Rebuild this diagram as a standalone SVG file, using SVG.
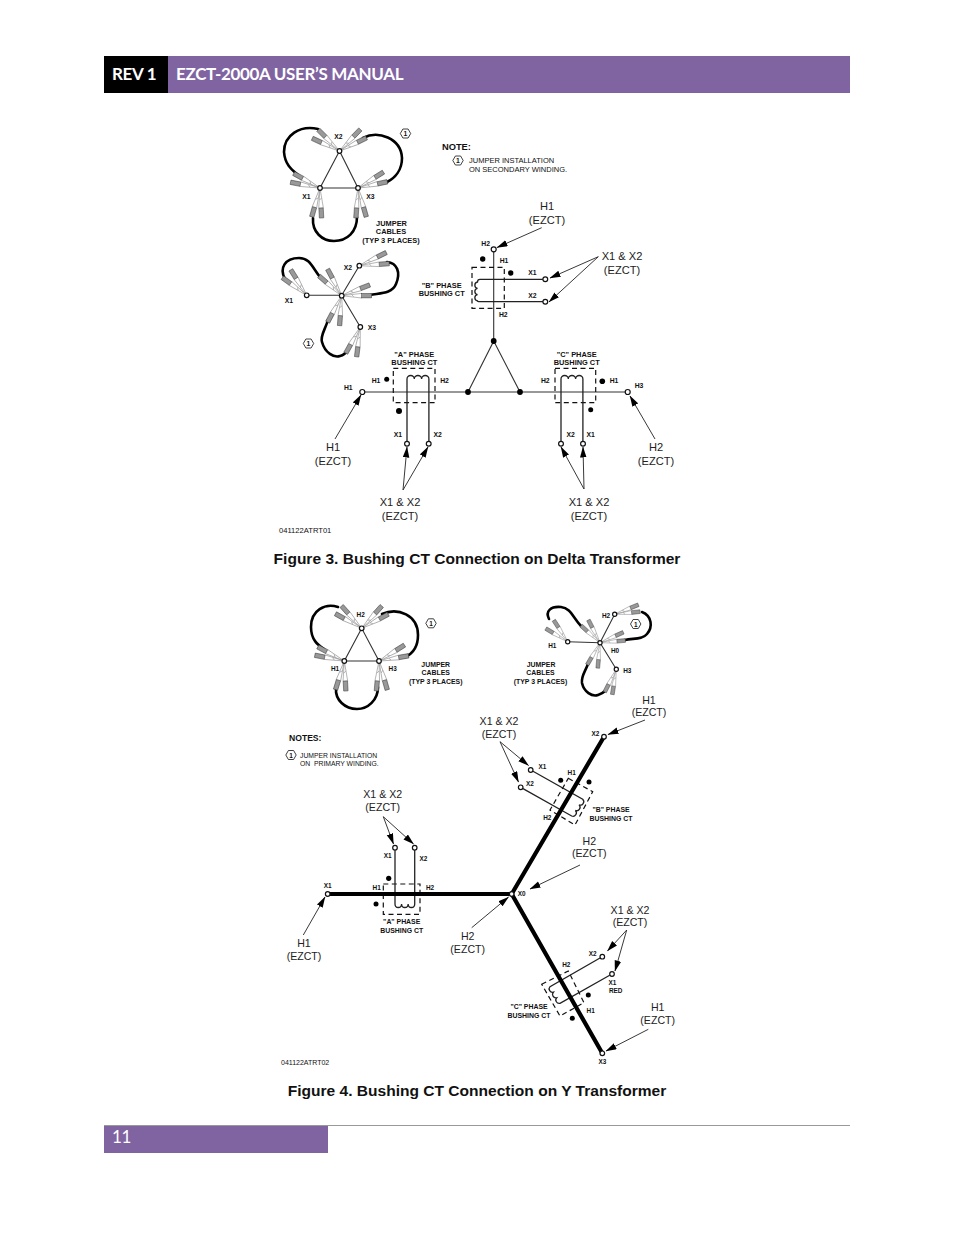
<svg xmlns="http://www.w3.org/2000/svg" xmlns:xlink="http://www.w3.org/1999/xlink" width="954" height="1235" viewBox="0 0 954 1235">
<style>
text{font-family:"Liberation Sans",Arial,sans-serif;fill:#111}
.h{font-family:Lato,"Liberation Sans",sans-serif;font-weight:700;font-size:17px;fill:#fff;letter-spacing:-.33px}
.f{font-weight:700;font-size:15.55px;text-anchor:middle}
.l{font-size:11.1px;text-anchor:middle;fill:#222}
.s{font-weight:700;font-size:6.8px;text-anchor:middle}
.j{font-weight:700;font-size:7.4px;text-anchor:middle}
.n{font-size:7.5px}
.y .s{font-size:6.4px}
.y .j{font-size:6.9px}
.y .l{font-size:10.6px}
.y .n{font-size:6.8px}
.w{fill:none;stroke:#222;stroke-width:1.3}
.t{fill:none;stroke:#333;stroke-width:1.1}
.m{fill:none;stroke:#000;stroke-width:4.2}
.c{fill:none;stroke:#000;stroke-width:2.6;stroke-linecap:round}
.d{fill:none;stroke:#111;stroke-width:1.2;stroke-dasharray:5 3.5}
.o{fill:#fff;stroke:#111;stroke-width:1.2}
.b{fill:#000}
.a{fill:none;stroke:#222;stroke-width:.9;marker-end:url(#ah)}
</style>
<defs>
<marker id="ah" markerUnits="userSpaceOnUse" markerWidth="11" markerHeight="7" refX="10.5" refY="3.3" orient="auto"><path d="M0 0L11 3.300L0 6.600z" fill="#000"/></marker>
<g id="clip"><path d="M0 0L20 -2.300M0 0L20 2.300M10 -1L12 1" fill="none" stroke="#888" stroke-width=".6"/><rect x="20" y="-2.200" width="10" height="4.400" fill="#999" stroke="#333" stroke-width=".5"/></g>
<polygon id="hex" points="5.2,0 2.6,4.5 -2.6,4.5 -5.2,0 -2.6,-4.5 2.6,-4.5" fill="#fff" stroke="#111" stroke-width=".8"/>
</defs>
<rect width="954" height="1235" fill="#fff"/>
<g id="header">
<rect x="168" y="56" width="682" height="37" fill="#8064a2"/>
<rect x="104" y="56" width="64" height="37" fill="#000"/>
<text class="h" x="112" y="80">REV 1</text>
<text class="h" x="176" y="80">EZCT-2000A USER’S MANUAL</text>
</g>
<g id="footer">
<line x1="104" y1="1125.500" x2="850" y2="1125.500" stroke="#999" stroke-width="1"/>
<rect x="104" y="1126" width="224" height="27" fill="#8064a2"/>
<text class="h" x="112" y="1143" style="font-weight:400">11</text>
</g>

<g id="jumper-delta-fig3">
<path class="t" d="M339.500 151L320 188L358 188Z"/>
<g id="j3a">
<path class="c" d="M318 129C300 125 284 135 284 152C285 165 292 170 298 175"/>
<path class="c" d="M363 138C378 130 401 138 402 158C402 170 395 178 387 182"/>
<path class="c" d="M313 218C312 232 322 241 334 241C347 241 357 232 357 217"/>
</g>
<use href="#clip" transform="translate(339.500 151) rotate(225)"/><use href="#clip" transform="translate(339.500 151) rotate(205)"/><use href="#clip" transform="translate(339.500 151) rotate(-46)"/><use href="#clip" transform="translate(339.500 151) rotate(-26)"/>
<use href="#clip" transform="translate(320 188) rotate(209)"/><use href="#clip" transform="translate(320 188) rotate(191)"/><use href="#clip" transform="translate(320 188) rotate(106)"/><use href="#clip" transform="translate(320 188) rotate(87)"/>
<use href="#clip" transform="translate(358 188) rotate(-32)"/><use href="#clip" transform="translate(358 188) rotate(-12)"/><use href="#clip" transform="translate(358 188) rotate(94)"/><use href="#clip" transform="translate(358 188) rotate(74)"/>
<circle class="o" cx="339.500" cy="151" r="2.300"/><circle class="o" cx="320" cy="188" r="2.300"/><circle class="o" cx="358" cy="188" r="2.300"/>
<text class="s" x="338.500" y="139">X2</text><text class="s" x="306.500" y="199">X1</text><text class="s" x="370.500" y="199">X3</text>
<use href="#hex" x="405.500" y="133.500"/><text class="s" x="405.500" y="136">1</text>
<text class="j" x="391.500" y="225.500">JUMPER</text><text class="j" x="391" y="234.300">CABLES</text><text class="j" x="391" y="243.300">(TYP 3 PLACES)</text>
</g>

<g id="jumper-wye-fig3">
<path class="t" d="M306.700 295.300H341.700L359.300 265.700M341.700 295.700L360.300 327"/>
<path class="c" d="M285 279C279 268 285 258 299 258C310 258 312 267 320 277"/>
<path class="c" d="M370 295C380 293 392 294 396 284C401 272 397 263 387 262"/>
<path class="c" d="M328 320C325 330 320 336 322 342C325 353 334 358 340 356C344 355 346 353 348 350"/>
<use href="#clip" transform="translate(306.700 295.300) rotate(216)"/><use href="#clip" transform="translate(306.700 295.300) rotate(238)"/>
<use href="#clip" transform="translate(341.700 295.700) rotate(221)"/><use href="#clip" transform="translate(341.700 295.700) rotate(242)"/><use href="#clip" transform="translate(341.700 295.700) rotate(-21)"/><use href="#clip" transform="translate(341.700 295.700) rotate(0)"/><use href="#clip" transform="translate(341.700 295.700) rotate(118)"/><use href="#clip" transform="translate(341.700 295.700) rotate(94)"/>
<use href="#clip" transform="translate(359.300 265.700) rotate(-26)"/><use href="#clip" transform="translate(359.300 265.700) rotate(-4)"/>
<use href="#clip" transform="translate(360.300 327) rotate(119)"/><use href="#clip" transform="translate(360.300 327) rotate(97)"/>
<circle class="o" cx="306.700" cy="295.300" r="2.300"/><circle class="o" cx="341.700" cy="295.700" r="2.300"/><circle class="o" cx="359.300" cy="265.700" r="2.300"/><circle class="o" cx="360.300" cy="327" r="2.300"/>
<text class="s" x="348" y="270">X2</text><text class="s" x="289" y="303">X1</text><text class="s" x="372" y="330">X3</text>
<use href="#hex" x="308.500" y="343.500"/><text class="s" x="308.500" y="346">1</text>
</g>

<g id="note-fig3">
<text x="442" y="150" style="font-weight:700;font-size:9.300px">NOTE:</text>
<use href="#hex" x="458" y="160.500"/><text class="s" x="458" y="163">1</text>
<text class="n" x="469" y="163">JUMPER INSTALLATION</text><text class="n" x="469" y="172">ON SECONDARY WINDING.</text>
<text x="279" y="533" style="font-size:7.600px">041122ATRT01</text>
</g>

<g id="fig3-lines">
<path class="t" d="M362.300 392H627.700"/>
<path class="t" d="M493.700 249.300V341L468 392M493.700 341L520 392"/>
<circle class="b" cx="493.700" cy="341" r="2.900"/><circle class="b" cx="468" cy="392" r="2.900"/><circle class="b" cx="520" cy="392" r="2.900"/>
</g>

<g id="ct-a-fig3">
<rect class="d" x="393.300" y="368.300" width="41.700" height="34.400"/>
<path class="w" d="M407 441V379a3.650 3.500 0 0 1 7.300 0a3.650 3.500 0 0 1 7.300 0a3.650 3.500 0 0 1 7.300 0V441"/>
<circle class="o" cx="407" cy="443.700" r="2.400"/><circle class="o" cx="428.700" cy="443.700" r="2.400"/>
<circle class="b" cx="386.700" cy="379.300" r="2.500"/><circle class="b" cx="399" cy="411" r="3"/>
<text class="j" x="414.300" y="356.700">"A" PHASE</text><text class="j" x="414.300" y="365.300">BUSHING CT</text>
<text class="s" x="376" y="382.500">H1</text><text class="s" x="444.500" y="383">H2</text><text class="s" x="398" y="436.500">X1</text><text class="s" x="437.700" y="436.500">X2</text>
</g>
<g id="ct-c-fig3">
<rect class="d" x="555" y="368.300" width="40.700" height="34.400"/>
<path class="w" d="M561 441V379a3.650 3.500 0 0 1 7.300 0a3.650 3.500 0 0 1 7.300 0a3.650 3.500 0 0 1 7.300 0V441"/>
<circle class="o" cx="561" cy="443.700" r="2.400"/><circle class="o" cx="583" cy="443.700" r="2.400"/>
<circle class="b" cx="602.300" cy="381.300" r="2.800"/><circle class="b" cx="590.700" cy="409.700" r="2.500"/>
<text class="j" x="576.700" y="356.700">"C" PHASE</text><text class="j" x="576.700" y="365.300">BUSHING CT</text>
<text class="s" x="545.300" y="383">H2</text><text class="s" x="614" y="383">H1</text><text class="s" x="570.700" y="436.500">X2</text><text class="s" x="590.700" y="436.500">X1</text>
</g>
<g id="ct-b-fig3">
<rect class="d" x="472" y="267.300" width="32.300" height="41"/>
<path class="w" d="M543 279.300H480Q477.500 279.300 477.500 282a3.200 3.200 0 0 0 0 6.300a3.200 3.200 0 0 0 0 6.300a3.200 3.200 0 0 0 0 6.300Q477.500 301.700 480 301.700H543"/>
<circle class="o" cx="545.300" cy="279.300" r="2.400"/><circle class="o" cx="545.300" cy="301.700" r="2.400"/>
<circle class="b" cx="482.700" cy="259" r="2.700"/><circle class="b" cx="510.700" cy="273" r="2.700"/>
<text class="j" x="441.700" y="287.500">"B" PHASE</text><text class="j" x="441.700" y="296">BUSHING CT</text>
<text class="s" x="504" y="262.500">H1</text><text class="s" x="532.300" y="275">X1</text><text class="s" x="532.300" y="298">X2</text><text class="s" x="503.300" y="317">H2</text>
</g>
<g id="fig3-terminals">
<circle class="o" cx="493.700" cy="249.300" r="2.500"/><circle class="o" cx="362.300" cy="392" r="2.500"/><circle class="o" cx="627.700" cy="392" r="2.500"/>
<text class="s" x="485.700" y="245.500">H2</text><text class="s" x="348.300" y="389.500">H1</text><text class="s" x="639" y="387.500">H3</text>
</g>

<g id="connectors-fig3">
<path class="a" d="M541.700 227.700L497 247.500"/>
<path class="a" d="M598.300 256.700L550 278"/><path class="a" d="M598.300 256.700L549 302"/>
<path class="a" d="M335 439L361 395"/>
<path class="a" d="M403 490L407 447"/><path class="a" d="M403 490L428 447"/>
<path class="a" d="M584 489L561 447"/><path class="a" d="M584 489L583 447"/>
<path class="a" d="M655 439L630 396"/>
</g>
<g id="labels-fig3">
<text class="l" x="547" y="210">H1</text><text class="l" x="547" y="224">(EZCT)</text>
<text class="l" x="622" y="260">X1 &amp; X2</text><text class="l" x="622" y="274">(EZCT)</text>
<text class="l" x="333" y="451">H1</text><text class="l" x="333" y="465">(EZCT)</text>
<text class="l" x="400" y="506">X1 &amp; X2</text><text class="l" x="400" y="520">(EZCT)</text>
<text class="l" x="589" y="506">X1 &amp; X2</text><text class="l" x="589" y="520">(EZCT)</text>
<text class="l" x="656" y="451">H2</text><text class="l" x="656" y="465">(EZCT)</text>
</g>
<text class="f" x="477" y="564">Figure 3. Bushing CT Connection on Delta Transformer</text>

<g class="y">
<g id="jumper-delta-fig4">
<path class="t" d="M361.700 628.300L344.300 661H379Z"/>
<path class="c" d="M338 607C325 603 311 610 311 627C311 640 318 645 324 649"/>
<path class="c" d="M382 614C398 607 418 615 418 635C418 648 412 654 405 657"/>
<path class="c" d="M336 688C335 700 345 709 357 709C368 709 378 700 378 687"/>
<use href="#clip" transform="translate(361.700 628.300) rotate(228)"/><use href="#clip" transform="translate(361.700 628.300) rotate(209)"/><use href="#clip" transform="translate(361.700 628.300) rotate(-48)"/><use href="#clip" transform="translate(361.700 628.300) rotate(-28)"/>
<use href="#clip" transform="translate(344.300 661) rotate(208)"/><use href="#clip" transform="translate(344.300 661) rotate(191)"/><use href="#clip" transform="translate(344.300 661) rotate(107)"/><use href="#clip" transform="translate(344.300 661) rotate(87)"/>
<use href="#clip" transform="translate(379 661) rotate(-32)"/><use href="#clip" transform="translate(379 661) rotate(-10)"/><use href="#clip" transform="translate(379 661) rotate(95)"/><use href="#clip" transform="translate(379 661) rotate(74)"/>
<circle class="o" cx="361.700" cy="628.300" r="2.300"/><circle class="o" cx="344.300" cy="661" r="2.300"/><circle class="o" cx="379" cy="661" r="2.300"/>
<text class="s" x="360.700" y="616.500">H2</text><text class="s" x="335" y="670.500">H1</text><text class="s" x="392.700" y="670.500">H3</text>
<use href="#hex" x="431" y="623.300"/><text class="s" x="431" y="625.800">1</text>
<text class="j" x="435.700" y="667">JUMPER</text><text class="j" x="435.700" y="675">CABLES</text><text class="j" x="435.700" y="684">(TYP 3 PLACES)</text>
</g>

<g id="jumper-wye-fig4">
<path class="t" d="M567.700 641.700L600 642.700L614.700 614.300M600 642.700L616.300 669.300"/>
<path class="c" d="M549 619C545 611 551 606 561 607C571 608 573 618 581 626"/>
<path class="c" d="M625 640C633 638 642 640 647 634C653 627 652 616 642 612"/>
<path class="c" d="M588 664C585 672 581 676 582 683C584 692 592 697 598 695C601 694 603 693 605 691"/>
<use href="#clip" transform="translate(567.700 641.700) rotate(211) scale(.85)"/><use href="#clip" transform="translate(567.700 641.700) rotate(237) scale(.85)"/>
<use href="#clip" transform="translate(600 642.700) rotate(222) scale(.85)"/><use href="#clip" transform="translate(600 642.700) rotate(243) scale(.85)"/><use href="#clip" transform="translate(600 642.700) rotate(-24) scale(.85)"/><use href="#clip" transform="translate(600 642.700) rotate(-5) scale(.85)"/><use href="#clip" transform="translate(600 642.700) rotate(120) scale(.85)"/><use href="#clip" transform="translate(600 642.700) rotate(95) scale(.85)"/>
<use href="#clip" transform="translate(614.700 614.300) rotate(-22) scale(.85)"/><use href="#clip" transform="translate(614.700 614.300) rotate(-6) scale(.85)"/>
<use href="#clip" transform="translate(616.300 669.300) rotate(117) scale(.85)"/><use href="#clip" transform="translate(616.300 669.300) rotate(99) scale(.85)"/>
<circle class="o" cx="567.700" cy="641.700" r="2.100"/><circle class="o" cx="600" cy="642.700" r="2.100"/><circle class="o" cx="614.700" cy="614.300" r="2.100"/><circle class="o" cx="616.300" cy="669.300" r="2.100"/>
<text class="s" x="606" y="617.500">H2</text><text class="s" x="552.300" y="648">H1</text><text class="s" x="615" y="653">H0</text><text class="s" x="627.300" y="672.500">H3</text>
<use href="#hex" x="635.700" y="624"/><text class="s" x="635.700" y="626.500">1</text>
<text class="j" x="541" y="667">JUMPER</text><text class="j" x="540.500" y="675">CABLES</text><text class="j" x="540.500" y="684">(TYP 3 PLACES)</text>
</g>

<g id="notes-fig4">
<text x="289" y="741" style="font-weight:700;font-size:8.600px">NOTES:</text>
<use href="#hex" x="291" y="755"/><text class="s" x="291" y="757.500">1</text>
<text class="n" x="300" y="757.500">JUMPER INSTALLATION</text><text class="n" x="300" y="765.500" xml:space="preserve">ON  PRIMARY WINDING.</text>
<text x="281" y="1065" style="font-size:7px">041122ATRT02</text>
</g>

<g id="ct-a-fig4">
<rect class="d" x="383.300" y="884" width="36.700" height="30.300"/>
<path class="w" d="M395 850V904a3.280 3.500 0 0 0 6.570 0a3.280 3.500 0 0 0 6.570 0a3.280 3.500 0 0 0 6.570 0V850"/>
<circle class="o" cx="395" cy="847.700" r="2.300"/><circle class="o" cx="414.700" cy="847.700" r="2.300"/>
<circle class="b" cx="388.700" cy="878.300" r="2.600"/><circle class="b" cx="376" cy="904" r="2.500"/>
<text class="j" x="401.700" y="924">"A" PHASE</text><text class="j" x="401.700" y="932.500">BUSHING CT</text>
<text class="s" x="387.700" y="857.500">X1</text><text class="s" x="423.300" y="860.500">X2</text><text class="s" x="376.700" y="890">H1</text><text class="s" x="430" y="890">H2</text>
</g>
<g id="ct-b-fig4">
<path class="d" d="M568.300 778.300L592.700 791.700L575 825L550 810Z"/>
<path class="w" d="M533 771.300L582.700 799.300a3.400 3.400 0 0 1 -3.670 5.570a3.400 3.400 0 0 1 -3.670 5.570a3.400 3.400 0 0 1 -3.670 5.570L523 788.600"/>
<circle class="o" cx="530.700" cy="770" r="2.300"/><circle class="o" cx="520.700" cy="787.300" r="2.300"/>
<circle class="b" cx="560.700" cy="780.300" r="2.500"/><circle class="b" cx="589" cy="782" r="2.500"/>
<text class="j" x="611" y="812">"B" PHASE</text><text class="j" x="611" y="820.500">BUSHING CT</text>
<text class="s" x="542.300" y="769">X1</text><text class="s" x="530" y="785.500">X2</text><text class="s" x="571.700" y="775">H1</text><text class="s" x="547.300" y="819.500">H2</text>
</g>
<g id="ct-c-fig4">
<path class="d" d="M541.700 984.300L568.300 971L584 1002.700L560 1016Z"/>
<path class="w" d="M600 958L550 986.700a3.400 3.400 0 0 0 3.330 5.530a3.400 3.400 0 0 0 3.330 5.530a3.400 3.400 0 0 0 3.330 5.530L609.700 975.300"/>
<circle class="o" cx="602.300" cy="956.700" r="2.300"/><circle class="o" cx="612" cy="974" r="2.300"/>
<circle class="b" cx="588.300" cy="995" r="2.500"/><circle class="b" cx="572.300" cy="1018.300" r="2.500"/>
<text class="j" x="529" y="1009">"C" PHASE</text><text class="j" x="529" y="1017.500">BUSHING CT</text>
<text class="s" x="592.700" y="956">X2</text><text class="s" x="612.300" y="984.500">X1</text><text class="s" x="615.700" y="993">RED</text><text class="s" x="566.300" y="967">H2</text><text class="s" x="590.700" y="1013">H1</text>
</g>
<g id="y-bus-fig4">
<path class="m" d="M330 894H511.700L604 736.700M511.700 894L602.300 1053.300"/>
<circle class="o" cx="327.700" cy="894" r="2.300"/><circle class="o" cx="511.700" cy="894" r="2.300"/><circle class="o" cx="604" cy="736.700" r="2.300"/><circle class="o" cx="602.300" cy="1053.300" r="2.300"/>
<text class="s" x="327.700" y="888.300">X1</text><text class="s" x="521.700" y="896">X0</text><text class="s" x="595.300" y="736">X2</text><text class="s" x="602.300" y="1064.300">X3</text>
</g>

<g id="connectors-fig4">
<path class="a" d="M645 720L608 734.500"/>
<path class="a" d="M500 741.700L528.500 765.500"/><path class="a" d="M500 741.700L518.500 782"/>
<path class="a" d="M383.300 816.700L393.500 844"/><path class="a" d="M383.300 816.700L413.500 844"/>
<path class="a" d="M580 865L530 889"/>
<path class="a" d="M303.300 935L325 897"/>
<path class="a" d="M471.700 927.700L508.500 897"/>
<path class="a" d="M626.700 930L607.500 951"/><path class="a" d="M626.700 930L615 971"/>
<path class="a" d="M648.300 1029.300L606 1051"/>
</g>
<g id="labels-fig4">
<text class="l" x="649" y="704">H1</text><text class="l" x="649" y="716">(EZCT)</text>
<text class="l" x="499" y="725">X1 &amp; X2</text><text class="l" x="499" y="738">(EZCT)</text>
<text class="l" x="382.700" y="798">X1 &amp; X2</text><text class="l" x="382.700" y="810.500">(EZCT)</text>
<text class="l" x="589.300" y="845">H2</text><text class="l" x="589.300" y="857">(EZCT)</text>
<text class="l" x="304" y="947">H1</text><text class="l" x="304" y="959.500">(EZCT)</text>
<text class="l" x="467.700" y="940">H2</text><text class="l" x="467.700" y="953">(EZCT)</text>
<text class="l" x="630" y="914">X1 &amp; X2</text><text class="l" x="630" y="925.500">(EZCT)</text>
<text class="l" x="657.700" y="1011">H1</text><text class="l" x="657.700" y="1023.500">(EZCT)</text>
</g>
</g>
<text class="f" x="477" y="1096">Figure 4. Bushing CT Connection on Y Transformer</text>
</svg>
